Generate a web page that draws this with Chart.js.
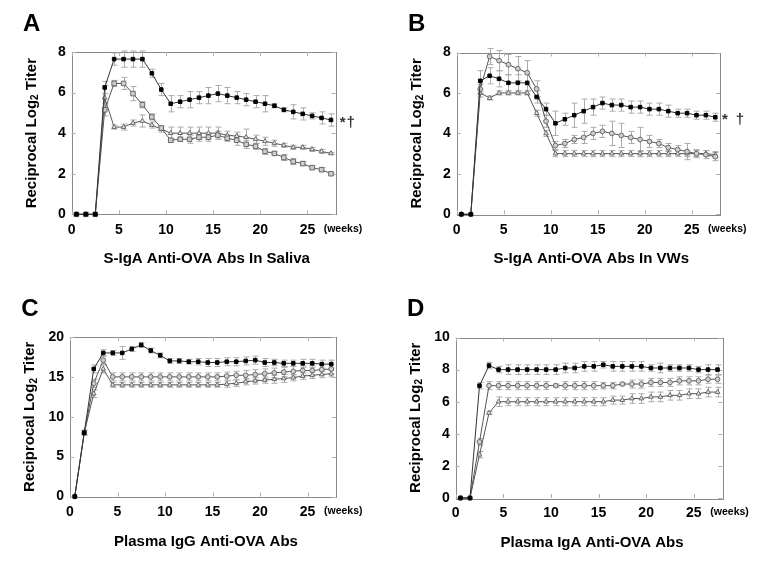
<!DOCTYPE html>
<html>
<head>
<meta charset="utf-8">
<script src="https://cdn.jsdelivr.net/npm/chart.js@4.4.1/dist/chart.umd.min.js"></script>
<style>
  body { margin: 0; background: #fff; }
  .panel { position: absolute; }
</style>
</head>
<body>
<div class="panel" style="left:0px;top:0px"><canvas id="chartA" width="384" height="280"></canvas></div>
<div class="panel" style="left:384px;top:0px"><canvas id="chartB" width="384" height="280"></canvas></div>
<div class="panel" style="left:0px;top:280px"><canvas id="chartC" width="384" height="281"></canvas></div>
<div class="panel" style="left:384px;top:280px"><canvas id="chartD" width="384" height="281"></canvas></div>
<script>
// sampling weeks (same for every panel)
const weeks = [0.5, 1.5, 2.5, 3.5, 4.5, 5.5, 6.5, 7.5, 8.5, 9.5, 10.5, 11.5, 12.5, 13.5,
               14.5, 15.5, 16.5, 17.5, 18.5, 19.5, 20.5, 21.5, 22.5, 23.5, 24.5, 25.5, 26.5, 27.5];

// A - S-IgA in saliva
const aBlack = [0,0,0,6.25,7.65,7.65,7.65,7.65,6.95,6.15,5.45,5.55,5.65,5.75,5.85,5.95,5.85,5.75,5.65,5.55,5.45,5.35,5.15,5.05,4.95,4.85,4.75,4.65];
const aBlackErr = [0,0,0,0.3,0.3,0.4,0.4,0.4,0.2,0.3,0.4,0.3,0.4,0.3,0.4,0.4,0.4,0.3,0.3,0.3,0.4,0.1,0.1,0.35,0.3,0.15,0.3,0.3];
const aSquare = [0,0,0,5.15,6.45,6.45,5.95,5.4,4.8,4.25,3.65,3.7,3.7,3.8,3.8,3.9,3.75,3.65,3.45,3.35,3.1,3.0,2.8,2.6,2.5,2.3,2.2,2.0];
const aSquareErr = [0,0,0,0.3,0.15,0.3,0.35,0.15,0.15,0.1,0.1,0.1,0.2,0.2,0.2,0.2,0.15,0.25,0.2,0.15,0.15,0.1,0.15,0.15,0.1,0.1,0.1,0.05];
const aTri = [0,0,0,5.75,4.3,4.3,4.5,4.6,4.4,4.2,4.0,4.0,4.0,4.0,4.0,4.0,3.9,3.85,3.8,3.7,3.6,3.5,3.4,3.3,3.3,3.2,3.1,3.0];
const aTriErr = [0,0,0,0.6,0.1,0.15,0.15,0.3,0.15,0.15,0.3,0.3,0.3,0.3,0.3,0.3,0.2,0.2,0.4,0.2,0.2,0.15,0.1,0.1,0.1,0.1,0.1,0.05];

// B - S-IgA in VWs
const bBlack = [0,0,6.6,6.85,6.7,6.5,6.5,6.5,5.8,5.2,4.5,4.7,4.9,5.1,5.3,5.5,5.4,5.4,5.3,5.3,5.2,5.2,5.1,5.0,5.0,4.9,4.9,4.8];
const bBlackErr = [0,0,0.5,0.4,0.4,0.4,0.4,0.4,0.3,0.3,0.6,0.3,0.6,0.6,0.4,0.3,0.3,0.3,0.3,0.3,0.3,0.3,0.3,0.2,0.2,0.2,0.2,0.2];
const bCircle = [0,0,6.2,7.8,7.6,7.4,7.2,7.0,6.2,4.6,3.4,3.5,3.7,3.8,4.0,4.1,4.0,3.9,3.8,3.7,3.6,3.5,3.3,3.2,3.1,3.0,2.95,2.85];
const bCircleErr = [0,0,0.2,0.4,0.5,0.5,0.6,0.6,0.4,0.3,0.2,0.2,0.2,0.3,0.3,0.3,0.6,0.6,0.3,0.6,0.3,0.2,0.2,0.2,0.4,0.2,0.2,0.2];
const bTri = [0,0,6.0,5.75,6.0,6.0,6.0,6.0,5.0,4.0,3.0,3.0,3.0,3.0,3.0,3.0,3.0,3.0,3.0,3.0,3.0,3.0,3.0,3.0,3.0,3.0,3.0,2.95];
const bTriErr = [0,0,0.2,0.1,0.1,0.1,0.1,0.1,0.15,0.15,0.15,0.15,0.15,0.15,0.15,0.15,0.15,0.15,0.15,0.15,0.15,0.15,0.15,0.15,0.15,0.15,0.15,0.15];

// C - plasma IgG
const cBlack = [0,8,16,18,18,18,18.5,19,18.3,17.7,17,17,16.9,16.9,16.8,16.8,16.9,16.9,17.0,17.1,16.8,16.8,16.7,16.7,16.7,16.7,16.6,16.6];
const cBlackErr = [0,0.3,0.5,0.4,0.3,0.8,0.3,0.3,0.3,0.3,0.3,0.3,0.3,0.4,0.5,0.5,0.5,0.5,0.5,0.5,0.5,0.4,0.4,0.4,0.5,0.5,0.5,0.5];
const cCircle = [0,8,14.2,17.1,15,15,15,15,15,15,15,15,15,15,15,15,15.1,15.2,15.2,15.3,15.4,15.5,15.6,15.7,15.8,15.8,15.9,16.0];
const cCircleErr = [0,0.3,0.5,0.5,0.5,0.5,0.5,0.5,0.5,0.5,0.5,0.5,0.5,0.5,0.5,0.5,0.5,0.5,0.6,0.6,0.6,0.6,0.6,0.6,0.6,0.6,0.6,0.6];
const cTri = [0,8,12.9,16,14,14,14,14,14,14,14,14,14,14,14,14,14.1,14.2,14.4,14.5,14.6,14.7,14.8,14.9,15.1,15.2,15.3,15.4];
const cTriErr = [0,0.3,0.5,0.5,0.3,0.3,0.3,0.3,0.3,0.3,0.3,0.3,0.3,0.3,0.3,0.3,0.4,0.4,0.4,0.4,0.4,0.5,0.5,0.4,0.4,0.4,0.4,0.4];

// D - plasma IgA
const dBlack = [0,0,7.0,8.25,8.0,8.0,8.0,8.0,8.0,8.0,8.0,8.1,8.1,8.2,8.2,8.3,8.2,8.2,8.2,8.2,8.1,8.1,8.1,8.1,8.1,8.0,8.0,8.0];
const dBlackErr = [0,0,0.2,0.2,0.2,0.3,0.3,0.3,0.3,0.3,0.3,0.3,0.3,0.3,0.3,0.2,0.3,0.3,0.3,0.3,0.2,0.3,0.2,0.2,0.2,0.2,0.3,0.3];
const dCircle = [0,0,3.5,7.0,7.0,7.0,7.0,7.0,7.0,7.0,7.0,7.0,7.0,7.0,7.0,7.0,7.0,7.1,7.1,7.1,7.2,7.2,7.2,7.3,7.3,7.3,7.4,7.4];
const dCircleErr = [0,0,0.2,0.25,0.25,0.25,0.25,0.25,0.25,0.25,0.1,0.25,0.25,0.25,0.25,0.2,0.2,0.1,0.25,0.25,0.25,0.25,0.25,0.25,0.25,0.25,0.25,0.25];
const dTri = [0,0,2.7,5.3,6.0,6.0,6.0,6.0,6.0,6.0,6.0,6.0,6.0,6.0,6.0,6.0,6.1,6.1,6.2,6.2,6.3,6.3,6.4,6.4,6.5,6.5,6.6,6.6];
const dTriErr = [0,0,0.2,0.1,0.3,0.25,0.25,0.25,0.25,0.25,0.25,0.25,0.25,0.25,0.25,0.25,0.25,0.25,0.3,0.3,0.3,0.3,0.3,0.3,0.3,0.3,0.3,0.3];

const FONT = '"Liberation Sans", Arial, Helvetica, sans-serif';

// error bars, drawn under the lines
const errorBars = {
  id: 'errorBars',
  beforeDatasetsDraw(chart) {
    const ctx = chart.ctx, xs = chart.scales.x, ys = chart.scales.y;
    ctx.save();
    ctx.strokeStyle = '#ababab';
    ctx.lineWidth = 1;
    chart.data.datasets.forEach(ds => {
      if (!ds.errors) return;
      ds.data.forEach((p, i) => {
        const e = ds.errors[i];
        if (!e) return;
        const px = Math.round(xs.getPixelForValue(p.x)) + 0.5;
        const t = ys.getPixelForValue(p.y + e);
        const b = ys.getPixelForValue(p.y - e);
        ctx.beginPath();
        ctx.moveTo(px, t); ctx.lineTo(px, b);
        ctx.moveTo(px - 3, t); ctx.lineTo(px + 3, t);
        ctx.moveTo(px - 3, b); ctx.lineTo(px + 3, b);
        ctx.stroke();
      });
    });
    ctx.restore();
  }
};

// box around plot with inward tick marks on all sides
const frame = {
  id: 'frame',
  beforeDatasetsDraw(chart) {
    const ctx = chart.ctx, a = chart.chartArea, xs = chart.scales.x, ys = chart.scales.y;
    ctx.save();
    ctx.strokeStyle = '#8a8a8a';
    ctx.lineWidth = 1;
    ctx.strokeRect(Math.round(a.left) + 0.5, Math.round(a.top) + 0.5,
                   Math.round(a.right - a.left), Math.round(a.bottom - a.top));
    ctx.strokeStyle = '#b0b0b0';
    ctx.beginPath();
    xs.ticks.forEach(t => {
      const px = Math.round(xs.getPixelForValue(t.value)) + 0.5;
      ctx.moveTo(px, a.bottom); ctx.lineTo(px, a.bottom - 4);
      ctx.moveTo(px, a.top); ctx.lineTo(px, a.top + 4);
    });
    ys.ticks.forEach(t => {
      const py = Math.round(ys.getPixelForValue(t.value)) + 0.5;
      ctx.moveTo(a.left, py); ctx.lineTo(a.left + 4, py);
      ctx.moveTo(a.right, py); ctx.lineTo(a.right - 4, py);
    });
    ctx.stroke();
    ctx.restore();
  }
};

// panel letter, axis titles, "(weeks)" and significance marks
const decor = {
  id: 'decor',
  afterDraw(chart, args, o) {
    const ctx = chart.ctx, a = chart.chartArea, ys = chart.scales.y;
    ctx.save();
    ctx.fillStyle = '#000';
    ctx.textBaseline = 'middle';

    ctx.textAlign = 'center';
    ctx.font = 'bold 24px ' + FONT;
    ctx.fillText(o.letter, a.left - 40, a.top - 28);

    ctx.font = 'bold 15px ' + FONT;
    ctx.fillText(o.xTitle, (a.left + a.right) / 2 + 3, a.bottom + 45);

    ctx.textAlign = 'left';
    ctx.font = 'bold 10.5px ' + FONT;
    ctx.fillText('(weeks)', a.right - 12, a.bottom + 14.5);

    // y title with subscript 2
    ctx.save();
    ctx.translate(a.left - 40, (a.top + a.bottom) / 2);
    ctx.rotate(-Math.PI / 2);
    const big = 'bold 15px ' + FONT, small = 'bold 10px ' + FONT;
    ctx.font = big;
    const w1 = ctx.measureText('Reciprocal Log').width;
    const w3 = ctx.measureText(' Titer').width;
    ctx.font = small;
    const w2 = ctx.measureText('2').width;
    let x = -(w1 + w2 + w3) / 2;
    ctx.font = big;
    ctx.fillText('Reciprocal Log', x, 0);
    ctx.font = small;
    ctx.fillText('2', x + w1, 4);
    ctx.font = big;
    ctx.fillText(' Titer', x + w1 + w2, 0);
    ctx.restore();

    if (o.marks) {
      ctx.fillStyle = '#333';
      ctx.textAlign = 'center';
      ctx.font = 'bold 15px ' + FONT;
      const y = ys.getPixelForValue(o.markValue);
      o.marks.forEach(m => ctx.fillText(m.text, a.right + m.dx, y + 3));
    }
    ctx.restore();
  }
};

function series(values, errors, style, radius, stroke, fill, line) {
  return {
    data: weeks.map((w, i) => ({ x: w, y: values[i] })),
    errors: errors,
    borderColor: line,
    borderWidth: 1,
    pointStyle: style,
    pointRadius: radius,
    pointBorderWidth: 1,
    pointBorderColor: stroke,
    pointBackgroundColor: fill,
    tension: 0,
    clip: false
  };
}

function makePanel(id, p) {
  const canvas = document.getElementById(id);
  const W = canvas.width, H = canvas.height, xH = 30;
  new Chart(canvas, {
    type: 'line',
    data: {
      datasets: [
        series(p.black, p.blackErr, 'rect', 2.5, '#000', '#000', '#333'),
        series(p.mid, p.midErr, p.midStyle, p.midStyle === 'rect' ? 3.2 : 2.4, '#6a6a6a', '#cfcfcf', '#555'),
        series(p.low, p.lowErr, 'triangle', 2.7, '#6a6a6a', '#e6e6e6', '#555')
      ]
    },
    options: {
      responsive: false,
      animation: false,
      events: [],
      layout: { padding: { left: 0, top: p.top, right: W - p.right, bottom: H - p.bottom - xH } },
      plugins: {
        legend: { display: false },
        tooltip: { enabled: false },
        decor: { letter: p.letter, xTitle: p.xTitle, marks: p.marks, markValue: p.markValue }
      },
      scales: {
        x: {
          type: 'linear', min: 0, max: 28,
          grid: { display: false, drawTicks: false },
          border: { display: false },
          ticks: { stepSize: 5, includeBounds: false, autoSkip: false, maxRotation: 0,
                   padding: 7, color: '#000', font: { family: FONT, size: 14, weight: 'bold' } },
          afterFit: s => { s.height = xH; }
        },
        y: {
          min: 0, max: p.yMax,
          grid: { display: false, drawTicks: false },
          border: { display: false },
          ticks: { stepSize: p.yStep, padding: 6, color: '#000',
                   font: { family: FONT, size: 14, weight: 'bold' } },
          afterFit: s => { s.width = p.left; }
        }
      }
    },
    plugins: [frame, errorBars, decor]
  });
}

makePanel('chartA', {
  letter: 'A', xTitle: 'S-IgA Anti-OVA Abs In Saliva',
  left: 71.7, right: 335.7, top: 52, bottom: 214.3, yMax: 8, yStep: 2,
  black: aBlack, blackErr: aBlackErr, mid: aSquare, midErr: aSquareErr, midStyle: 'rect',
  low: aTri, lowErr: aTriErr,
  marks: [{ text: '*', dx: 7 }, { text: '†', dx: 15 }], markValue: aBlack[aBlack.length - 1]
});
makePanel('chartB', {
  letter: 'B', xTitle: 'S-IgA Anti-OVA Abs In VWs',
  left: 72.7, right: 336, top: 52.5, bottom: 214.3, yMax: 8, yStep: 2,
  black: bBlack, blackErr: bBlackErr, mid: bCircle, midErr: bCircleErr, midStyle: 'circle',
  low: bTri, lowErr: bTriErr,
  marks: [{ text: '*', dx: 5 }, { text: '†', dx: 20 }], markValue: bBlack[bBlack.length - 1]
});
makePanel('chartC', {
  letter: 'C', xTitle: 'Plasma IgG Anti-OVA Abs',
  left: 70, right: 336, top: 57, bottom: 216.5, yMax: 20, yStep: 5,
  black: cBlack, blackErr: cBlackErr, mid: cCircle, midErr: cCircleErr, midStyle: 'circle',
  low: cTri, lowErr: cTriErr
});
makePanel('chartD', {
  letter: 'D', xTitle: 'Plasma IgA Anti-OVA Abs',
  left: 71.7, right: 338.3, top: 57.5, bottom: 218, yMax: 10, yStep: 2,
  black: dBlack, blackErr: dBlackErr, mid: dCircle, midErr: dCircleErr, midStyle: 'circle',
  low: dTri, lowErr: dTriErr
});
</script>
</body>
</html>
